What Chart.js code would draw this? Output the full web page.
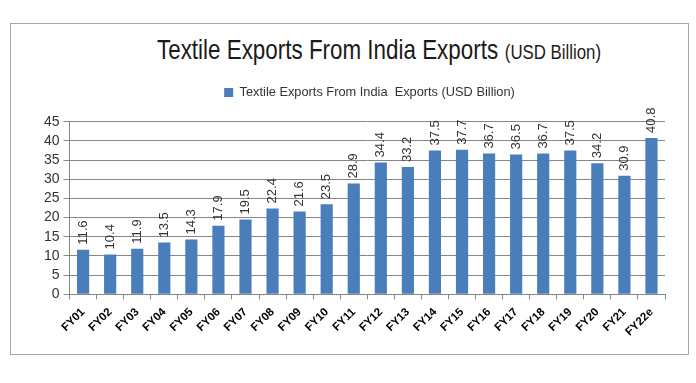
<!DOCTYPE html>
<html>
<head>
<meta charset="utf-8">
<script src="https://cdn.jsdelivr.net/npm/chart.js@4"></script>
<style>
  body { margin: 0; background: #fff; }
  #marco { position: absolute; left: 10px; top: 23px; width: 677px; height: 330px; border: 1px solid #a6a6a6; }
  #titulo { position: absolute; left: 157px; top: 34px; white-space: nowrap; transform-origin: 0 0; transform: scaleX(0.8);
            font-family: "Liberation Sans", Arial, sans-serif; color: #1a1a1a; }
  #titulo .grande { font-size: 28px; }
  #titulo .chico { font-size: 21px; margin-left: 4px; }
  #grafico { position: absolute; left: 0; top: 0; }
</style>
</head>
<body>
<div id="marco"></div>
<div id="titulo"><span class="grande">Textile Exports From India Exports</span> <span class="chico">(USD Billion)</span></div>
<canvas id="grafico" width="696" height="383"></canvas>
<script>
const anios = ['FY01','FY02','FY03','FY04','FY05','FY06','FY07','FY08','FY09','FY10','FY11',
               'FY12','FY13','FY14','FY15','FY16','FY17','FY18','FY19','FY20','FY21','FY22e'];
const exportaciones = [11.6, 10.4, 11.9, 13.5, 14.3, 17.9, 19.5, 22.4, 21.6, 23.5, 28.9,
                       34.4, 33.2, 37.5, 37.7, 36.7, 36.5, 36.7, 37.5, 34.2, 30.9, 40.8];
const nombreSerie = 'Textile Exports From India  Exports (USD Billion)';

const fuenteNormal = '"Liberation Sans", Arial, sans-serif';

// etiquetas de valor giradas encima de cada barra
const etiquetasValor = {
    id: 'etiquetasValor',
    afterDatasetsDraw(chart) {
        const ctx = chart.ctx;
        const meta = chart.getDatasetMeta(0);
        ctx.save();
        ctx.font = '13px ' + fuenteNormal;
        ctx.fillStyle = '#333';
        ctx.textAlign = 'left';
        ctx.textBaseline = 'middle';
        meta.data.forEach((barra, i) => {
            ctx.save();
            ctx.translate(barra.x, barra.y - 5);
            ctx.rotate(-Math.PI / 2);
            ctx.fillText(exportaciones[i].toFixed(1), 0, 0);
            ctx.restore();
        });
        ctx.restore();
    }
};

// mas espacio entre la leyenda y el area del grafico, y leyenda un poco a la derecha
const margenLeyenda = {
    id: 'margenLeyenda',
    beforeInit(chart) {
        const fitOriginal = chart.legend.fit;
        chart.legend.fit = function () {
            fitOriginal.call(this);
            this.height += 13;
        };
    },
    afterLayout(chart) {
        chart.legend.left += 17;
        chart.legend.right += 17;
    }
};

const ctx = document.getElementById('grafico').getContext('2d');
new Chart(ctx, {
    type: 'bar',
    data: {
        labels: anios,
        datasets: [{
            label: nombreSerie,
            data: exportaciones,
            backgroundColor: '#4a7ebb',
            borderWidth: 0,
            barPercentage: 0.45,
            categoryPercentage: 1
        }]
    },
    options: {
        responsive: false,
        animation: false,
        layout: { padding: { top: 69, left: 40, right: 31, bottom: 38 } },
        plugins: {
            legend: {
                labels: {
                    font: { family: fuenteNormal, size: 12.8 },
                    color: '#333',
                    boxWidth: 9,
                    boxHeight: 9,
                    padding: 17
                }
            },
            tooltip: { enabled: false }
        },
        scales: {
            x: {
                grid: { drawOnChartArea: false, drawTicks: true, tickLength: 5, color: '#868686', offset: true },
                border: { color: '#868686' },
                ticks: {
                    maxRotation: 45, minRotation: 45, padding: 6,
                    color: '#000',
                    font: { family: fuenteNormal, size: 11.5, weight: 'bold' }
                }
            },
            y: {
                min: 0, max: 45,
                grid: { color: '#868686', tickLength: 6 },
                border: { color: '#868686' },
                ticks: {
                    stepSize: 5, padding: 4, autoSkip: false,
                    color: '#333',
                    font: { family: fuenteNormal, size: 14 }
                }
            }
        }
    },
    plugins: [etiquetasValor, margenLeyenda]
});
</script>
</body>
</html>
